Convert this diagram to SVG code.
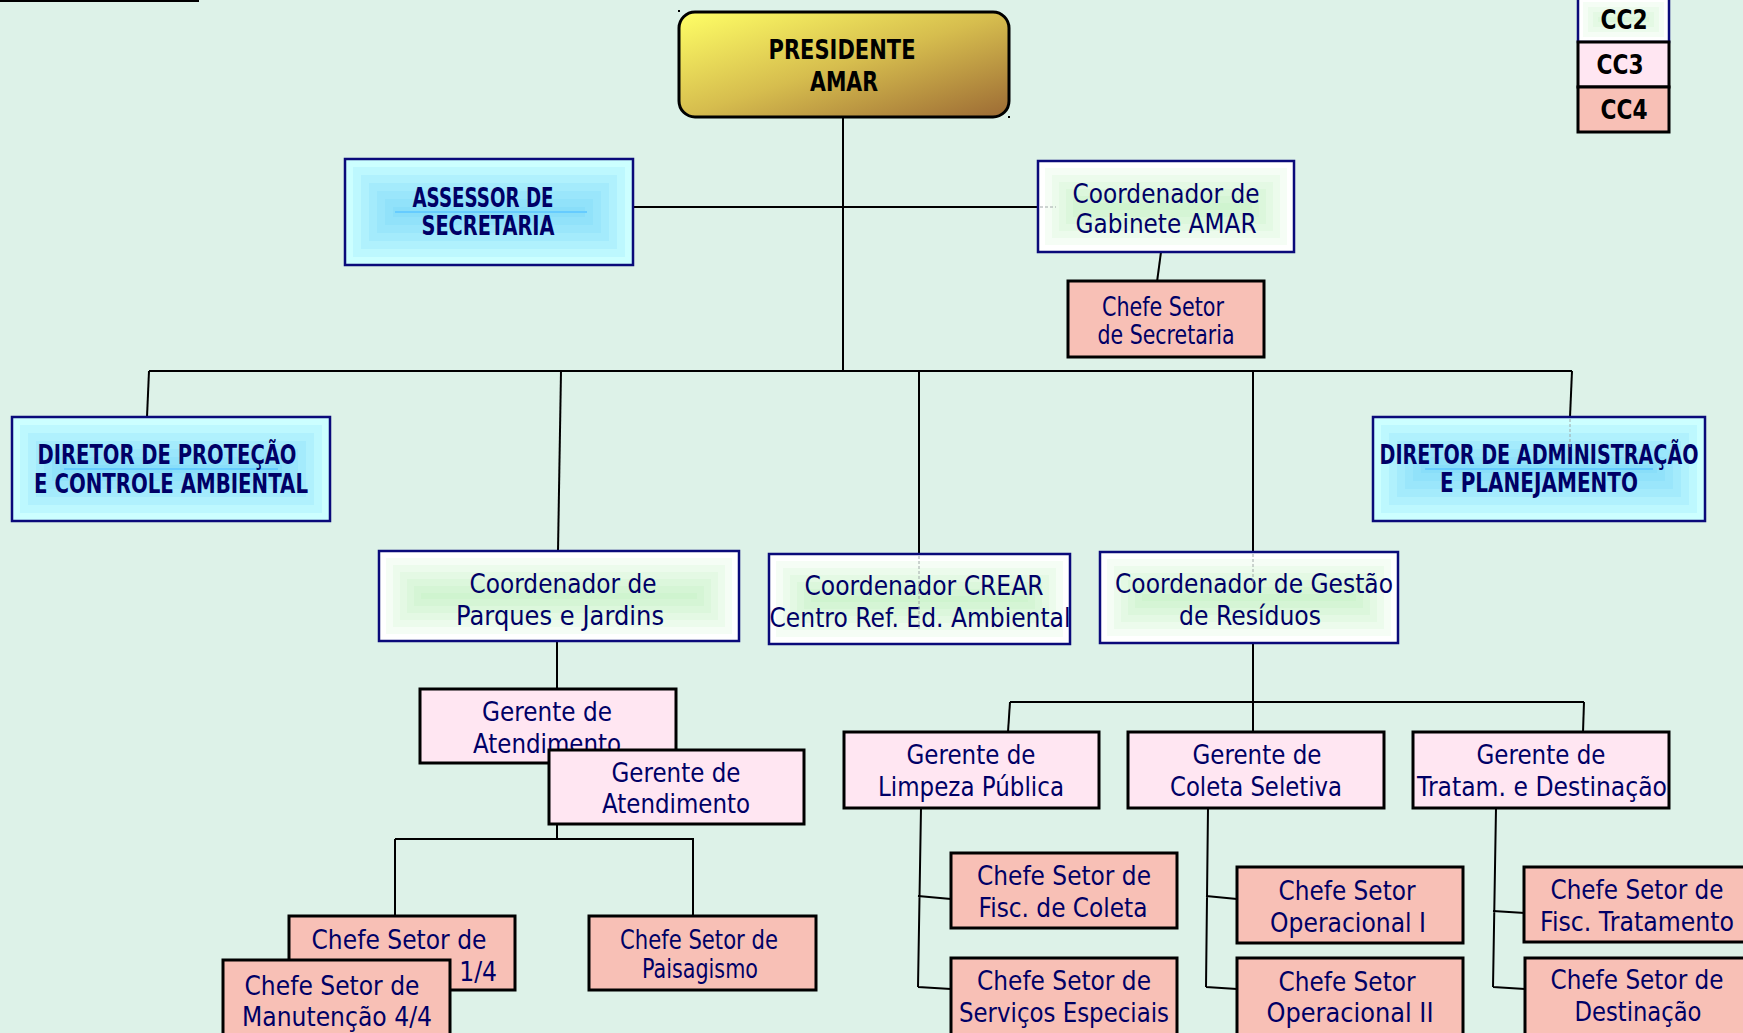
<svg xmlns="http://www.w3.org/2000/svg" width="1743" height="1033" viewBox="0 0 1743 1033">
<defs>
<linearGradient id="gold" x1="0" y1="0" x2="1" y2="1">
<stop offset="0" stop-color="#FFFF66"/>
<stop offset="0.5" stop-color="#D6BD4E"/>
<stop offset="1" stop-color="#9C6A34"/>
</linearGradient>
<style>
.t{font-family:"DejaVu Sans","Liberation Sans",sans-serif;fill:#000066;text-anchor:middle;font-size:27px}
.b{font-weight:bold}
.k{fill:#000}
.blue{fill:#CCFFFF;stroke:#0A0A7A;stroke-width:2.5}
.bl{fill:#55C4F5;fill-opacity:.12}
.bline{stroke:#66CCFF;stroke-width:2}
.green{fill:#FFFFFF;stroke:#0A0A7A;stroke-width:2.5}
.gl{fill:#9BE89B;fill-opacity:.1}
.pink{fill:#FFE6F2;stroke:#000;stroke-width:3}
.salmon{fill:#F8C0B6;stroke:#000;stroke-width:3}
.c{stroke:#000;stroke-width:2;fill:none}
.f{stroke:#A0A8A8;stroke-width:1;stroke-dasharray:3 2;fill:none}
</style>
</defs>
<rect x="0" y="0" width="1743" height="1033" fill="#DDF2E8"/>
<rect x="0" y="0" width="199" height="2" fill="#000"/>

<g id="connectors">
<path class="c" d="M843,117 V371"/>
<path class="c" d="M633,207 H1038"/>
<path class="c" d="M1161,252 L1157,282"/>
<path class="c" d="M149,371 H1572"/>
<path class="c" d="M149,371 L147,417"/>
<path class="c" d="M1572,371 L1570,417"/>
<path class="c" d="M561,371 L558,551"/>
<path class="c" d="M919,371 V554"/>
<path class="c" d="M1253,371 V552"/>
<path class="c" d="M557,641 V689"/>
<path class="c" d="M1253,643 V702"/>
<path class="c" d="M1010,702 H1584"/>
<path class="c" d="M1010,702 L1008,732"/>
<path class="c" d="M1253,702 V732"/>
<path class="c" d="M1584,702 L1583,732"/>
<path class="c" d="M557,824 V839"/>
<path class="c" d="M395,839 H694"/>
<path class="c" d="M395,839 V916"/>
<path class="c" d="M693,839 V916"/>
<path class="c" d="M921,808 L918,987 M918,896 L951,899 M918,987 L951,989"/>
<path class="c" d="M1208,808 L1206,987 M1206,896 L1237,899 M1206,987 L1237,989"/>
<path class="c" d="M1496,808 L1493,987 M1493,911 L1525,913 M1493,987 L1525,989"/>
</g>

<g id="presidente">
<rect x="679" y="12" width="330" height="105" rx="16" fill="url(#gold)" stroke="#000" stroke-width="3"/>
<rect x="678" y="10" width="2" height="2" fill="#000"/>
<rect x="1008" y="116" width="2" height="2" fill="#000"/>
<text class="t b k" x="842" y="59" font-size="26" textLength="147" lengthAdjust="spacingAndGlyphs">PRESIDENTE</text>
<text class="t b k" x="844" y="91" font-size="26" textLength="68" lengthAdjust="spacingAndGlyphs">AMAR</text>
</g>

<g id="assessor">
<rect class="blue" x="345" y="159" width="288" height="106"/>
<rect class="bl" x="353" y="167" width="272" height="90"/>
<rect class="bl" x="361" y="175" width="256" height="74"/>
<rect class="bl" x="369" y="183" width="240" height="58"/>
<rect class="bl" x="377" y="191" width="224" height="42"/>
<rect class="bl" x="385" y="199" width="208" height="26"/>
<rect class="bl" x="393" y="207" width="192" height="10"/>
<path class="bline" d="M395,212 H587"/>
<text class="t b" x="483" y="207" font-size="23" textLength="141" lengthAdjust="spacingAndGlyphs">ASSESSOR DE</text>
<text class="t b" x="488" y="235" font-size="23" textLength="133" lengthAdjust="spacingAndGlyphs">SECRETARIA</text>
</g>

<g id="gabinete">
<rect class="green" x="1038" y="161" width="256" height="91"/>
<rect class="gl" x="1045" y="168" width="242" height="77"/>
<rect class="gl" x="1052" y="175" width="228" height="63"/>
<rect class="gl" x="1059" y="182" width="214" height="49"/>
<rect class="gl" x="1066" y="189" width="200" height="35"/>
<rect class="gl" x="1073" y="196" width="186" height="21"/>
<rect class="gl" x="1080" y="203" width="172" height="7"/>
<text class="t" x="1166" y="203" font-size="28" textLength="187" lengthAdjust="spacingAndGlyphs">Coordenador de</text>
<text class="t" x="1166" y="233" font-size="28" textLength="181" lengthAdjust="spacingAndGlyphs">Gabinete AMAR</text>
</g>

<g id="chefe-secretaria">
<rect class="salmon" x="1068" y="281" width="196" height="76"/>
<text class="t" x="1163" y="316" font-size="26" textLength="122" lengthAdjust="spacingAndGlyphs">Chefe Setor</text>
<text class="t" x="1166" y="344" font-size="26" textLength="137" lengthAdjust="spacingAndGlyphs">de Secretaria</text>
</g>

<g id="diretor-protecao">
<rect class="blue" x="12" y="417" width="318" height="104"/>
<rect class="bl" x="20" y="425" width="302" height="88"/>
<rect class="bl" x="28" y="433" width="286" height="72"/>
<rect class="bl" x="36" y="441" width="270" height="56"/>
<rect class="bl" x="44" y="449" width="254" height="40"/>
<rect class="bl" x="52" y="457" width="238" height="24"/>
<rect class="bl" x="60" y="465" width="222" height="8"/>
<path class="bline" d="M64,469 H278"/>
<text class="t b" x="167" y="464" font-size="22" textLength="259" lengthAdjust="spacingAndGlyphs">DIRETOR DE PROTEÇÃO</text>
<text class="t b" x="171" y="493" font-size="22" textLength="274" lengthAdjust="spacingAndGlyphs">E CONTROLE AMBIENTAL</text>
</g>

<g id="diretor-administracao">
<rect class="blue" x="1373" y="417" width="332" height="104"/>
<rect class="bl" x="1381" y="425" width="316" height="88"/>
<rect class="bl" x="1389" y="433" width="300" height="72"/>
<rect class="bl" x="1397" y="441" width="284" height="56"/>
<rect class="bl" x="1405" y="449" width="268" height="40"/>
<rect class="bl" x="1413" y="457" width="252" height="24"/>
<rect class="bl" x="1421" y="465" width="236" height="8"/>
<path class="bline" d="M1425,469 H1653"/>
<text class="t b" x="1539" y="464" font-size="22" textLength="319" lengthAdjust="spacingAndGlyphs">DIRETOR DE ADMINISTRAÇÃO</text>
<text class="t b" x="1539" y="492" font-size="22" textLength="198" lengthAdjust="spacingAndGlyphs">E PLANEJAMENTO</text>
</g>

<g id="coord-parques">
<rect class="green" x="379" y="551" width="360" height="90"/>
<rect class="gl" x="386" y="558" width="346" height="76"/>
<rect class="gl" x="393" y="565" width="332" height="62"/>
<rect class="gl" x="400" y="572" width="318" height="48"/>
<rect class="gl" x="407" y="579" width="304" height="34"/>
<rect class="gl" x="414" y="586" width="290" height="20"/>
<rect class="gl" x="421" y="593" width="276" height="6"/>
<text class="t" x="563" y="593" font-size="28" textLength="187" lengthAdjust="spacingAndGlyphs">Coordenador de</text>
<text class="t" x="560" y="625" font-size="28" textLength="208" lengthAdjust="spacingAndGlyphs">Parques e Jardins</text>
</g>

<g id="coord-crear">
<rect class="green" x="769" y="554" width="301" height="90"/>
<rect class="gl" x="776" y="561" width="287" height="76"/>
<rect class="gl" x="783" y="568" width="273" height="62"/>
<rect class="gl" x="790" y="575" width="259" height="48"/>
<rect class="gl" x="797" y="582" width="245" height="34"/>
<rect class="gl" x="804" y="589" width="231" height="20"/>
<rect class="gl" x="811" y="596" width="217" height="6"/>
<text class="t" x="924" y="595" font-size="28" textLength="239" lengthAdjust="spacingAndGlyphs">Coordenador CREAR</text>
<text class="t" x="920" y="627" font-size="28" textLength="301" lengthAdjust="spacingAndGlyphs">Centro Ref. Ed. Ambiental</text>
</g>

<g id="coord-residuos">
<rect class="green" x="1100" y="552" width="298" height="91"/>
<rect class="gl" x="1107" y="559" width="284" height="77"/>
<rect class="gl" x="1114" y="566" width="270" height="63"/>
<rect class="gl" x="1121" y="573" width="256" height="49"/>
<rect class="gl" x="1128" y="580" width="242" height="35"/>
<rect class="gl" x="1135" y="587" width="228" height="21"/>
<rect class="gl" x="1142" y="594" width="214" height="7"/>
<text class="t" x="1254" y="593" font-size="28" textLength="278" lengthAdjust="spacingAndGlyphs">Coordenador de Gestão</text>
<text class="t" x="1250" y="625" font-size="28" textLength="142" lengthAdjust="spacingAndGlyphs">de Resíduos</text>
</g>

<g id="gerente-atendimento-1">
<rect class="pink" x="420" y="689" width="256" height="74"/>
<text class="t" x="547" y="721" textLength="130" lengthAdjust="spacingAndGlyphs">Gerente de</text>
<text class="t" x="547" y="753" textLength="148" lengthAdjust="spacingAndGlyphs">Atendimento</text>
</g>

<g id="gerente-atendimento-2">
<rect class="pink" x="549" y="750" width="255" height="74"/>
<text class="t" x="676" y="782" textLength="129" lengthAdjust="spacingAndGlyphs">Gerente de</text>
<text class="t" x="676" y="813" textLength="148" lengthAdjust="spacingAndGlyphs">Atendimento</text>
</g>

<g id="gerente-limpeza">
<rect class="pink" x="844" y="732" width="255" height="76"/>
<text class="t" x="971" y="764" textLength="129" lengthAdjust="spacingAndGlyphs">Gerente de</text>
<text class="t" x="971" y="796" textLength="186" lengthAdjust="spacingAndGlyphs">Limpeza Pública</text>
</g>

<g id="gerente-coleta">
<rect class="pink" x="1128" y="732" width="256" height="76"/>
<text class="t" x="1257" y="764" textLength="129" lengthAdjust="spacingAndGlyphs">Gerente de</text>
<text class="t" x="1256" y="796" textLength="172" lengthAdjust="spacingAndGlyphs">Coleta Seletiva</text>
</g>

<g id="gerente-tratamento">
<rect class="pink" x="1413" y="732" width="256" height="76"/>
<text class="t" x="1541" y="764" textLength="129" lengthAdjust="spacingAndGlyphs">Gerente de</text>
<text class="t" x="1542" y="796" textLength="250" lengthAdjust="spacingAndGlyphs">Tratam. e Destinação</text>
</g>

<g id="chefe-manutencao-1">
<rect class="salmon" x="289" y="916" width="226" height="74"/>
<text class="t" x="399" y="949" textLength="175" lengthAdjust="spacingAndGlyphs">Chefe Setor de</text>
<text class="t" x="402" y="981" textLength="190" lengthAdjust="spacingAndGlyphs">Manutenção 1/4</text>
</g>

<g id="chefe-manutencao-4">
<rect class="salmon" x="223" y="960" width="227" height="80"/>
<text class="t" x="332" y="995" textLength="175" lengthAdjust="spacingAndGlyphs">Chefe Setor de</text>
<text class="t" x="337" y="1026" textLength="190" lengthAdjust="spacingAndGlyphs">Manutenção 4/4</text>
</g>

<g id="chefe-paisagismo">
<rect class="salmon" x="589" y="916" width="227" height="74"/>
<text class="t" x="699" y="949" font-size="24" textLength="158" lengthAdjust="spacingAndGlyphs">Chefe Setor de</text>
<text class="t" x="700" y="978" font-size="24" textLength="116" lengthAdjust="spacingAndGlyphs">Paisagismo</text>
</g>

<g id="chefe-fisc-coleta">
<rect class="salmon" x="951" y="853" width="226" height="75"/>
<text class="t" x="1064" y="885" textLength="174" lengthAdjust="spacingAndGlyphs">Chefe Setor de</text>
<text class="t" x="1063" y="917" textLength="169" lengthAdjust="spacingAndGlyphs">Fisc. de Coleta</text>
</g>

<g id="chefe-servicos">
<rect class="salmon" x="951" y="958" width="226" height="80"/>
<text class="t" x="1064" y="990" textLength="174" lengthAdjust="spacingAndGlyphs">Chefe Setor de</text>
<text class="t" x="1064" y="1022" textLength="210" lengthAdjust="spacingAndGlyphs">Serviços Especiais</text>
</g>

<g id="chefe-operacional-1">
<rect class="salmon" x="1237" y="867" width="226" height="76"/>
<text class="t" x="1347" y="900" textLength="137" lengthAdjust="spacingAndGlyphs">Chefe Setor</text>
<text class="t" x="1348" y="932" textLength="156" lengthAdjust="spacingAndGlyphs">Operacional I</text>
</g>

<g id="chefe-operacional-2">
<rect class="salmon" x="1237" y="958" width="226" height="80"/>
<text class="t" x="1347" y="991" textLength="137" lengthAdjust="spacingAndGlyphs">Chefe Setor</text>
<text class="t" x="1350" y="1022" textLength="167" lengthAdjust="spacingAndGlyphs">Operacional II</text>
</g>

<g id="chefe-fisc-tratamento">
<rect class="salmon" x="1524" y="867" width="230" height="75"/>
<text class="t" x="1637" y="899" textLength="173" lengthAdjust="spacingAndGlyphs">Chefe Setor de</text>
<text class="t" x="1637" y="931" textLength="194" lengthAdjust="spacingAndGlyphs">Fisc. Tratamento</text>
</g>

<g id="chefe-destinacao">
<rect class="salmon" x="1525" y="958" width="230" height="80"/>
<text class="t" x="1637" y="989" textLength="173" lengthAdjust="spacingAndGlyphs">Chefe Setor de</text>
<text class="t" x="1638" y="1021" textLength="127" lengthAdjust="spacingAndGlyphs">Destinação</text>
</g>

<g id="legend-cc2">
<rect class="green" x="1578" y="-3" width="91" height="45"/>
<rect class="gl" x="1583" y="2" width="81" height="35"/>
<rect class="gl" x="1588" y="7" width="71" height="25"/>
<rect class="gl" x="1593" y="12" width="61" height="15"/>
<rect class="gl" x="1598" y="17" width="51" height="5"/>
<text class="t b k" x="1624" y="29" font-size="24" textLength="47" lengthAdjust="spacingAndGlyphs">CC2</text>
</g>
<g id="legend-cc3">
<rect class="pink" x="1578" y="42" width="91" height="45"/>
<text class="t b k" x="1620" y="74" font-size="24" textLength="47" lengthAdjust="spacingAndGlyphs">CC3</text>
</g>
<g id="legend-cc4">
<rect class="salmon" x="1578" y="87" width="91" height="45"/>
<text class="t b k" x="1624" y="119" font-size="24" textLength="47" lengthAdjust="spacingAndGlyphs">CC4</text>
</g>

<g id="connector-traces">
<path class="f" d="M1040,207 H1056"/>
<path class="f" d="M1570,419 V448"/>
<path class="f" d="M919,556 V630"/>
<path class="f" d="M1253,554 V584"/>
</g>
</svg>
